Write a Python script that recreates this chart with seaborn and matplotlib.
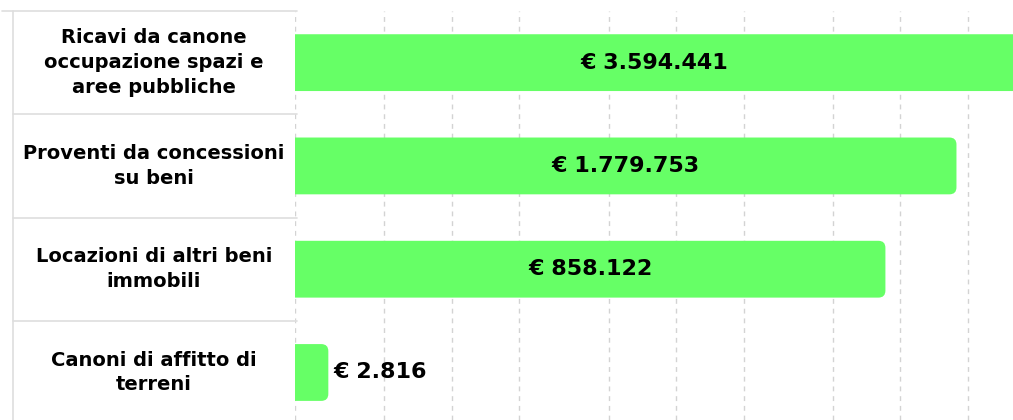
import numpy as np
import pandas as pd
import matplotlib
matplotlib.use("Agg")
import matplotlib.pyplot as plt
import matplotlib.transforms as mtransforms
from matplotlib.patches import FancyBboxPatch
from matplotlib.ticker import NullLocator
import seaborn as sns

# data
categories = [
    "Ricavi da canone\noccupazione spazi e\naree pubbliche",
    "Proventi da concessioni\nsu beni",
    "Locazioni di altri beni\nimmobili",
    "Canoni di affitto di\nterreni",
]
values = [3594441, 1779753, 858122, 2816]
grid_ticks = [2000, 5000, 10000, 20000, 50000, 100000, 200000, 500000, 1000000, 2000000]

df = pd.DataFrame({"voce": categories, "importo": values})

sns.set_style("white")
plt.rcParams["font.family"] = ["DejaVu Sans"]

W, H = 1013, 420
fig = plt.figure(figsize=(W / 100, H / 100), dpi=100)
ax = fig.add_axes([295 / W, 0, 1 - 295 / W, 1 - 11 / H])

sns.barplot(data=df, x="importo", y="voce", orient="h", color="#66ff66",
            saturation=1, width=0.55, ax=ax)

ax.set_xscale("log")
ax.set_xlim(2000, 3.18e6)
ax.set_ylim(3.46, -0.5)
ax.set_autoscale_on(False)

# gridlines at 2000, 5000, 10000, ...
ax.set_xticks(grid_ticks)
ax.xaxis.set_minor_locator(NullLocator())
ax.tick_params(axis="both", length=0, labelbottom=False, labelleft=False)
ax.grid(axis="x", color="#d3d3d3", linestyle=(0, (3.5, 3.5)), linewidth=1)
ax.grid(axis="y", visible=False)
ax.set_axisbelow(True)
ax.set_xlabel("")
ax.set_ylabel("")
for s in ax.spines.values():
    s.set_visible(False)

# swap the square bars for bars with a rounded right end
fig.canvas.draw()
x_left = ax.transAxes.transform((0, 0))[0] - 20
for p in list(ax.patches):
    v = p.get_x() + p.get_width()
    y0, y1 = p.get_y(), p.get_y() + p.get_height()
    x_right = ax.transData.transform((v, y0))[0]
    ya = ax.transData.transform((v, y0))[1]
    yb = ax.transData.transform((v, y1))[1]
    rb = FancyBboxPatch((x_left, min(ya, yb)), x_right - x_left, abs(yb - ya),
                        boxstyle="round,pad=0,rounding_size=7",
                        facecolor="#66ff66", edgecolor="none",
                        transform=mtransforms.IdentityTransform(), zorder=1)
    ax.add_patch(rb)
    p.set_visible(False)

# value labels
xmin, xmax = ax.get_xlim()
for i, v in enumerate(values):
    txt = "€ " + f"{v:,}".replace(",", ".")
    px_w = ax.transData.transform((min(v, xmax), 0))[0] - ax.transData.transform((xmin, 0))[0]
    if px_w > 160:
        ax.text(np.sqrt(xmin * min(v, xmax)), i, txt, ha="center", va="center",
                fontsize=16, fontweight="bold", color="black", zorder=3)
    else:
        ax.annotate(txt, (v, i), xytext=(4, 0), textcoords="offset points",
                    ha="left", va="center", fontsize=16, fontweight="bold",
                    color="black", zorder=3)

# category labels in a table on the left
trans = mtransforms.blended_transform_factory(fig.transFigure, ax.transData)
for i, cat in enumerate(categories):
    ax.text(154 / W, i, cat, transform=trans, ha="center", va="center",
            fontsize=14, fontweight="bold", color="black", linespacing=1.38)

line_kw = dict(transform=trans, color="#dedede", linewidth=1.2, clip_on=False)
ax.plot([2 / W, 297 / W], [-0.5, -0.5], **line_kw)
for b in [0.5, 1.5, 2.5]:
    ax.plot([13 / W, 297 / W], [b, b], **line_kw)
ax.plot([13 / W, 13 / W], [-0.5, 3.46], **line_kw)

fig.savefig("out.png", dpi=100)
